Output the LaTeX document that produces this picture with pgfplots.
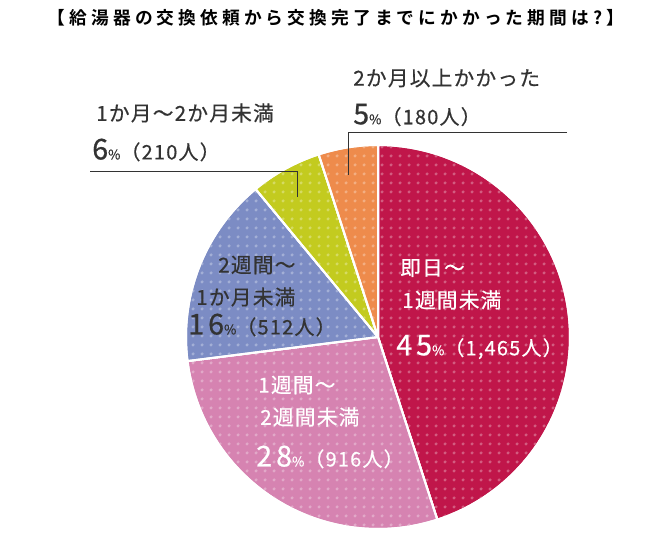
\documentclass[border=0pt]{standalone}
\usepackage{pgfplots}
\pgfplotsset{compat=1.18}
\usepackage{pgfplotstable}
\usetikzlibrary{patterns.meta}
\usepackage{fontspec}
\setmainfont{Noto Sans CJK JP}
\newfontfamily\jp[LetterSpace=6, FakeBold=0.5]{Noto Sans CJK JP}
\newfontfamily\jpn[LetterSpace=14, FakeBold=0.6]{Noto Sans CJK JP}
\newfontfamily\jpt[LetterSpace=23]{Noto Sans CJK JP Bold}

\definecolor{cA}{HTML}{C0164A}
\definecolor{cB}{HTML}{D683B1}
\definecolor{cC}{HTML}{7C8CC4}
\definecolor{cD}{HTML}{C3CB1F}
\definecolor{cE}{HTML}{EE8B4C}
\definecolor{tx}{HTML}{333333}

\tikzdeclarepattern{
  name=pdots,
  type=uncolored,
  bounding box={(0,0) and (6.75pt,6.75pt)},
  tile size={(6.75pt,6.75pt)},
  code={\fill (3.375pt,3.375pt) circle (1.4pt);}
}

\pgfplotstableread{
pct people
45 1465
28 916
16 512
6 210
5 180
}\piedata
\pgfplotstablegetelem{0}{pct}\of\piedata\let\pA\pgfplotsretval%
\pgfplotstablegetelem{1}{pct}\of\piedata\let\pB\pgfplotsretval%
\pgfplotstablegetelem{2}{pct}\of\piedata\let\pC\pgfplotsretval%
\pgfplotstablegetelem{3}{pct}\of\piedata\let\pD\pgfplotsretval%
\pgfplotstablegetelem{4}{pct}\of\piedata\let\pE\pgfplotsretval%
\pgfmathsetmacro\tA{90}%
\pgfmathsetmacro\tB{\tA-3.6*\pA}%
\pgfmathsetmacro\tC{\tB-3.6*\pB}%
\pgfmathsetmacro\tD{\tC-3.6*\pC}%
\pgfmathsetmacro\tE{\tD-3.6*\pD}%
\pgfmathsetmacro\tF{\tE-3.6*\pE}%

\newcommand\bignum[1]{{\jpn\fontsize{21.5}{21}\selectfont #1}}
\newcommand\pc{{\jp\fontsize{10}{10}\selectfont\%}}
\newcommand\ppl[1]{{\jp\fontsize{15}{15}\selectfont （#1人）}}
\newcommand\lb[1]{{\jp\fontsize{15.5}{16}\selectfont #1}}

\begin{document}%
\begin{tikzpicture}
\begin{axis}[hide axis, scale only axis, width=501pt, height=402.75pt,
  xmin=0, xmax=668, ymin=0, ymax=537, clip=false]
\path (axis cs:0,0) rectangle (axis cs:668,537);
\pgfplotsset{wedge/.style={draw=white, line width=1.5pt, samples=90, line join=round}}
\addplot[wedge, fill=cA, postaction={pattern=pdots, pattern color=cA!70!white}, domain=\tB:\tA, variable=\t] ({378+192*cos(\t)},{200+192*sin(\t)}) -- (axis cs:378,200) -- cycle;
\addplot[wedge, fill=cB, postaction={pattern=pdots, pattern color=cB!70!white}, domain=\tC:\tB, variable=\t] ({378+192*cos(\t)},{200+192*sin(\t)}) -- (axis cs:378,200) -- cycle;
\addplot[wedge, fill=cC, postaction={pattern=pdots, pattern color=cC!70!white}, domain=\tD:\tC, variable=\t] ({378+192*cos(\t)},{200+192*sin(\t)}) -- (axis cs:378,200) -- cycle;
\addplot[wedge, fill=cD, postaction={pattern=pdots, pattern color=cD!70!white}, domain=\tE:\tD, variable=\t] ({378+192*cos(\t)},{200+192*sin(\t)}) -- (axis cs:378,200) -- cycle;
\addplot[wedge, fill=cE, postaction={pattern=pdots, pattern color=cE!70!white}, domain=\tF:\tE, variable=\t] ({378+192*cos(\t)},{200+192*sin(\t)}) -- (axis cs:378,200) -- cycle;

% leader lines
\draw[tx, line width=0.75pt] (axis cs:90,366) -- (axis cs:297,366) -- (axis cs:297,340);
\draw[tx, line width=0.75pt] (axis cs:567,405) -- (axis cs:348,405) -- (axis cs:348,362);

% title
\node[text=black, inner sep=0] at (axis cs:336,519) {\jpt\fontsize{13.3}{13}\selectfont 【給湯器の交換依頼から交換完了までにかかった期間は?】};

% outside labels
\node[text=tx, anchor=west, inner sep=0] at (axis cs:96,424) {\lb{1か月〜2か月未満}};
\node[text=tx, anchor=west, inner sep=0] at (axis cs:92,387) {\bignum{6}\pc\ppl{210}};
\node[text=tx, anchor=west, inner sep=0] at (axis cs:353,459) {\lb{2か月以上かかった}};
\node[text=tx, anchor=west, inner sep=0] at (axis cs:353,422) {\bignum{5}\pc\ppl{180}};

% crimson
\node[text=white, anchor=west, inner sep=0] at (axis cs:400,269) {\lb{即日〜}};
\node[text=white, anchor=west, inner sep=0] at (axis cs:402,237) {\lb{1週間未満}};
\node[text=white, anchor=west, inner sep=0] at (axis cs:396,190) {\bignum{45}\pc\ppl{1,465}};
% blue
\node[text=tx, anchor=west, inner sep=0] at (axis cs:218,272) {\lb{2週間〜}};
\node[text=tx, anchor=west, inner sep=0] at (axis cs:196,240) {\lb{1か月未満}};
\node[text=tx, anchor=west, inner sep=0] at (axis cs:188,212) {\bignum{16}\pc\ppl{512}};
% pink
\node[text=white, anchor=west, inner sep=0] at (axis cs:258,152) {\lb{1週間〜}};
\node[text=white, anchor=west, inner sep=0] at (axis cs:260,120) {\lb{2週間未満}};
\node[text=white, anchor=west, inner sep=0] at (axis cs:256,80) {\bignum{28}\pc\ppl{916}};
\end{axis}
\end{tikzpicture}%
\end{document}
